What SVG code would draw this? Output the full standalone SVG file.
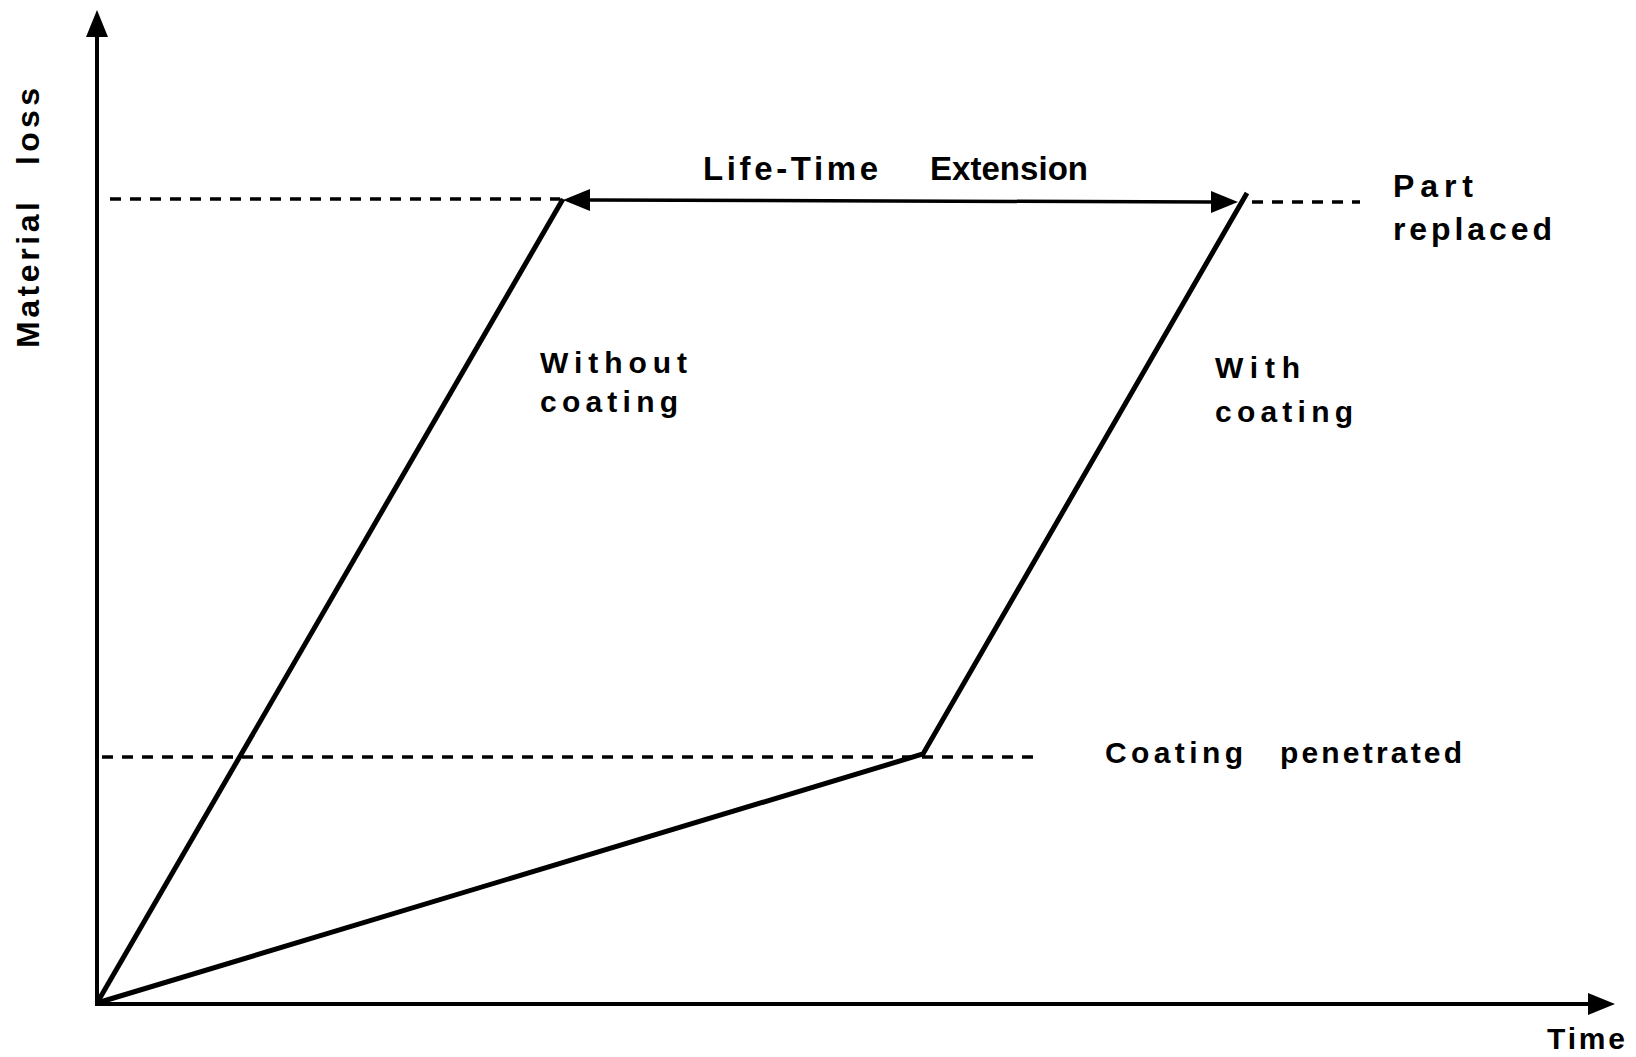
<svg xmlns="http://www.w3.org/2000/svg" width="1636" height="1057" viewBox="0 0 1636 1057">
  <style>
    .lbl { font-family: "Liberation Sans", Arial, sans-serif; font-weight: bold; fill: #000; }
    .axis { stroke: #000; stroke-width: 4; fill: none; }
    .curve { stroke: #000; stroke-width: 5; fill: none; stroke-linejoin: miter; }
    .dash { stroke: #000; stroke-width: 3.5; fill: none; stroke-dasharray: 11 9; }
    .ext { stroke: #000; stroke-width: 3.5; fill: none; }
  </style>
  <defs>
    <marker id="head" markerUnits="userSpaceOnUse" markerWidth="27" markerHeight="22" refX="0" refY="11" orient="auto-start-reverse" viewBox="0 0 27 22">
      <path d="M0,0 L27,11 L0,22 z" fill="#000"/>
    </marker>
  </defs>
  <rect x="0" y="0" width="1636" height="1057" fill="#fff"/>

  <g id="guides">
    <line class="dash" x1="110" y1="199" x2="560" y2="199"/>
    <line class="dash" x1="1252" y1="202" x2="1360" y2="202"/>
    <line class="dash" x1="102" y1="757" x2="1041" y2="757"/>
  </g>

  <g id="axes">
    <line class="axis" x1="97" y1="1004" x2="97" y2="37" marker-end="url(#head)"/>
    <line class="axis" x1="95" y1="1004" x2="1588" y2="1004" marker-end="url(#head)"/>
  </g>

  <g id="connectors">
    <polyline id="without-coating" class="curve" points="97,1003 563,199"/>
    <polyline id="with-coating" class="curve" points="97,1003 923,754 1247,193"/>
    <line id="life-time-extension" class="ext" x1="590" y1="200" x2="1211" y2="202" marker-start="url(#head)" marker-end="url(#head)"/>
  </g>

  <g id="labels">
    <g id="y-label" transform="translate(39,348) rotate(-90)">
      <text class="lbl" x="0" y="0" font-size="32" textLength="146" lengthAdjust="spacing">Material</text>
      <text class="lbl" x="183" y="0" font-size="32" textLength="77" lengthAdjust="spacing">loss</text>
    </g>
    <text id="x-label" class="lbl" x="1547" y="1049" font-size="30" textLength="78" lengthAdjust="spacing">Time</text>
    <g id="ext-label">
      <text class="lbl" x="703" y="180" font-size="33" textLength="175" lengthAdjust="spacing">Life-Time</text>
      <text class="lbl" x="930" y="180" font-size="33" textLength="158" lengthAdjust="spacing">Extension</text>
    </g>
    <g id="part-label">
      <text class="lbl" x="1393" y="197" font-size="32" textLength="80" lengthAdjust="spacing">Part</text>
      <text class="lbl" x="1393" y="240" font-size="32" textLength="159" lengthAdjust="spacing">replaced</text>
    </g>
    <g id="without-label">
      <text class="lbl" x="540" y="373" font-size="30" textLength="147" lengthAdjust="spacing">Without</text>
      <text class="lbl" x="540" y="412" font-size="30" textLength="138" lengthAdjust="spacing">coating</text>
    </g>
    <g id="with-label">
      <text class="lbl" x="1215" y="378" font-size="30" textLength="85" lengthAdjust="spacing">With</text>
      <text class="lbl" x="1215" y="422" font-size="30" textLength="138" lengthAdjust="spacing">coating</text>
    </g>
    <g id="penetrated-label">
      <text class="lbl" x="1105" y="763" font-size="30" textLength="138" lengthAdjust="spacing">Coating</text>
      <text class="lbl" x="1280" y="763" font-size="30" textLength="182" lengthAdjust="spacing">penetrated</text>
    </g>
  </g>
</svg>
